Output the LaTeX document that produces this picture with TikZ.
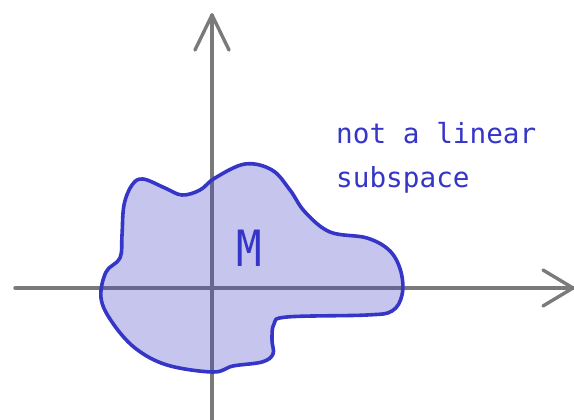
\documentclass[tikz,border=0pt]{standalone}
\usepackage{fontspec}
\usetikzlibrary{calc}
\newfontfamily\handfont{DejaVu Sans Mono}
\definecolor{axisgray}{HTML}{7A7A7A}
\definecolor{inkblue}{HTML}{3535C8}
\definecolor{fillblue}{HTML}{3E3EC6}
\begin{document}
\begin{tikzpicture}[x=1pt,y=-1pt,
  axis/.style={draw=axisgray,line width=3.4pt,line cap=round,line join=round},
  blob/.style={draw=inkblue,line width=3.6pt,fill=fillblue,fill opacity=0.3,line join=round},
  lbl/.style={text=inkblue,inner sep=0pt,font=\handfont\fontsize{27.7}{45}\selectfont}]
\useasboundingbox (0,0) rectangle (574,420);
% axes
\coordinate (xl) at (15,288);
\coordinate (xr) at (573,288);
\coordinate (yb) at (212,420);
\coordinate (yt) at (212,15);
\draw[axis] (xl) -- (xr);
\draw[axis] (yb) -- (yt);
\draw[axis] ($(xr)+(-30,-18)$) -- (xr) -- ($(xr)+(-30,18)$);
\draw[axis] ($(yt)+(-17,35)$) -- (yt) -- ($(yt)+(17,35)$);
% set M
\draw[blob] plot[smooth cycle,tension=0.6] coordinates {
 (143,179) (165,188) (182,195) (200,190) (215,178)
 (245,164) (272,170) (290,190) (305,212) (330,232) (367,238)
 (390,251) (401,272) (402,295) (392,311) (367,315) (287,317)
 (274,324) (272,340) (273,354) (262,362) (233,366) (213,372)
 (167,365) (135,348) (112,322) (101,298) (106,272)
 (120,258) (122,235) (124,205) (132,185)};
\node[text=inkblue,inner sep=0pt,font=\handfont\fontsize{50}{50}\selectfont,xscale=0.85] (m) at (249,248) {M};
% label
\node[lbl,anchor=base west] (l1) at (336,143) {not a linear};
\node[lbl,anchor=base west] (l2) at (336,188) {subspace};
\end{tikzpicture}
\end{document}
